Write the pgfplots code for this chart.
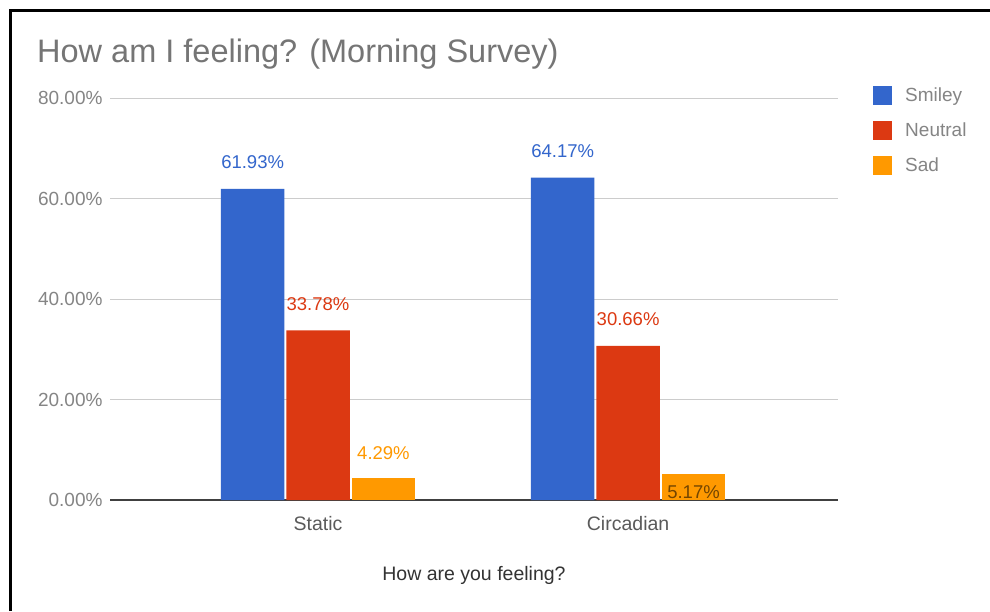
\documentclass[border=0pt]{standalone}
\usepackage{fontspec}
\setmainfont{Liberation Sans}
\usepackage{pgfplots}
\pgfplotsset{compat=1.18}

\definecolor{gblue}{HTML}{3366CC}
\definecolor{gred}{HTML}{DC3912}
\definecolor{gorange}{HTML}{FF9900}
\definecolor{titlegray}{HTML}{757575}
\definecolor{ticktext}{HTML}{858585}
\definecolor{cattext}{HTML}{5A5A5A}
\definecolor{gridgray}{HTML}{CCCCCC}

\newcommand{\lblfont}{\fontsize{18.5}{22}\selectfont}

\begin{document}
\begin{tikzpicture}
\useasboundingbox (0,0) rectangle (990pt,611pt);
\fill[white] (0,0) rectangle (990pt,611pt);
% frame (left and top only)
\draw[line width=2.5pt] (10.5pt,0) -- (10.5pt,600.5pt) -- (990pt,600.5pt);
% title
\node[anchor=base west, inner sep=0pt, text=titlegray, font=\fontsize{32.5}{38}\selectfont]
  at (37pt,548pt) {How am I feeling? (Morning Survey)};

\begin{axis}[
  at={(110pt,111pt)}, anchor=south west,
  scale only axis, width=728pt, height=402pt,
  xmin=-0.671, xmax=1.677, ymin=0, ymax=80,
  ybar, bar width=0.205,
  clip=false,
  xtick={0,1}, xticklabels={Static,Circadian},
  ytick={0,20,40,60,80},
  /pgf/number format/assume math mode=true,
  yticklabel={\pgfmathprintnumber[fixed,fixed zerofill,precision=2]{\tick}\%},
  yticklabel style={text=ticktext, font=\fontsize{19}{23}\selectfont, xshift=-4pt},
  xticklabel style={text=cattext, font=\fontsize{19.5}{23}\selectfont, yshift=-13pt},
  xlabel={How are you feeling?},
  xlabel style={at={(axis description cs:0.5,-0.199)}, anchor=base,
    text=black!80, font=\fontsize{19.5}{23}\selectfont},
  major tick length=0pt, tick style={draw=none},
  axis x line*=bottom, axis y line*=left,
  y axis line style={draw=none},
  x axis line style={draw=black!75, line width=1.5pt},
  ymajorgrids, major grid style={gridgray, line width=1pt},
  nodes near coords={\pgfmathprintnumber[fixed,fixed zerofill,precision=2]{\pgfplotspointmeta}\%},
  every node near coord/.append style={font=\lblfont},
  legend style={at={(axis description cs:1.044,1.035)}, anchor=north west,
    draw=none, fill=none, font=\fontsize{19}{23}\selectfont, text=ticktext,
    row sep=15.5pt},
  legend cell align=left,
  legend image code/.code={\fill[#1] (0pt,-9.5pt) rectangle (19pt,9.5pt); \path (30pt,0pt);},
]
\addplot[fill=gblue, draw=none, bar shift=-0.211,
  every node near coord/.append style={text=gblue, yshift=16.5pt}]
  coordinates {(0,61.93) (1,64.17)};
\addlegendentry{Smiley}
\addplot[fill=gred, draw=none, bar shift=0,
  every node near coord/.append style={text=gred, yshift=16.5pt}]
  coordinates {(0,33.78) (1,30.66)};
\addlegendentry{Neutral}
\addplot[fill=gorange, draw=none, bar shift=0.211,
  every node near coord/.append style={text=gorange, yshift=15pt}]
  coordinates {(0,4.29)};
\addlegendentry{Sad}
\addplot[fill=gorange, draw=none, bar shift=0.211, forget plot,
  every node near coord/.append style={text=gorange!45!black, yshift=-28.5pt}]
  coordinates {(1,5.17)};
\end{axis}
\end{tikzpicture}
\end{document}
